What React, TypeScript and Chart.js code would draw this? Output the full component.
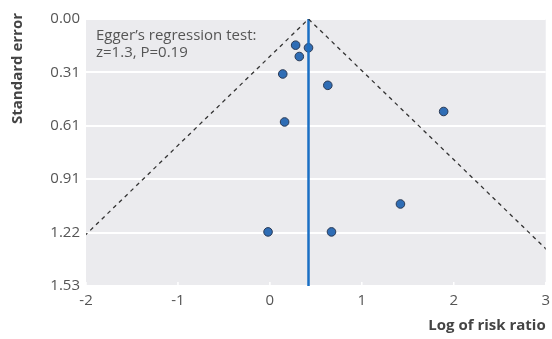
import React, { useEffect, useRef } from "react";
import { Chart, registerables } from "chart.js";
Chart.register(...registerables);

const logRR = [0.28, 0.42, 0.32, 0.14, 0.63, 1.89, 0.16, -0.02, 0.67, 1.42];
const stdErr = [0.15, 0.165, 0.215, 0.315, 0.38, 0.53, 0.59, 1.22, 1.22, 1.06];
const pooled = 0.42;
const seMax = 1.53;
const yTickLabels = ["0.00", "0.31", "0.61", "0.91", "1.22", "1.53"];
const xTickValues = [-2, -1, 0, 1, 2, 3];
const annotation = ["Egger\u2019s regression test:", "z=1.3, P=0.19"];
const yTitle = "Standard error";

const FONT = "'Open Sans', 'Noto Sans', sans-serif";

const bgPlugin = {
  id: "bg",
  beforeDraw(chart: any) {
    const { ctx, chartArea: a } = chart;
    ctx.save();
    ctx.fillStyle = "#EBEBEE";
    ctx.fillRect(a.left, a.top, a.right - a.left, a.bottom - a.top);
    ctx.restore();
  },
  beforeDatasetsDraw(chart: any) {
    const { ctx, chartArea: a, scales } = chart;
    ctx.save();
    ctx.strokeStyle = "#fff";
    ctx.lineWidth = 1.5;
    xTickValues.forEach((v) => {
      const px = scales.x.getPixelForValue(v);
      ctx.beginPath();
      ctx.moveTo(px, a.bottom);
      ctx.lineTo(px, a.bottom - 4);
      ctx.stroke();
    });
    ctx.restore();
  },
  afterDatasetsDraw(chart: any) {
    const { ctx, chartArea: a } = chart;
    ctx.save();
    ctx.fillStyle = "#555";
    ctx.font = `15px ${FONT}`;
    ctx.textBaseline = "middle";
    ctx.fillText(annotation[0], a.left + 10, 36);
    ctx.fillText(annotation[1], a.left + 10, 53);
    ctx.restore();
    ctx.save();
    ctx.fillStyle = "#444";
    ctx.font = `bold 15px ${FONT}`;
    ctx.translate(18, 13);
    ctx.rotate(-Math.PI / 2);
    ctx.textAlign = "right";
    ctx.textBaseline = "middle";
    ctx.fillText(yTitle, 0, 0);
    ctx.restore();
  },
};

export default function App() {
  const ref = useRef<HTMLCanvasElement>(null);
  useEffect(() => {
    const points = logRR.map((x, i) => ({ x, y: stdErr[i] }));
    const chart = new Chart(ref.current!, {
      type: "scatter",
      data: {
        datasets: [
          {
            type: "line",
            data: [
              { x: pooled - 1.96 * seMax, y: seMax },
              { x: pooled, y: 0 },
              { x: pooled + 1.96 * seMax, y: seMax },
            ],
            borderColor: "#333",
            borderWidth: 1.3,
            borderDash: [4, 4],
            pointRadius: 0,
            fill: false,
          } as any,
          {
            type: "line",
            data: [
              { x: pooled, y: 0 },
              { x: pooled, y: seMax },
            ],
            borderColor: "#1A6FC4",
            borderWidth: 2.5,
            pointRadius: 0,
            fill: false,
          } as any,
          {
            data: points,
            backgroundColor: "#2F6DB5",
            borderColor: "#2A3A55",
            borderWidth: 1,
            pointRadius: 4.3,
          },
        ],
      },
      options: {
        animation: false,
        responsive: false,
        layout: { padding: { top: 19, right: 4 } },
        plugins: { legend: { display: false }, tooltip: { enabled: false } },
        scales: {
          x: {
            type: "linear",
            min: -2,
            max: 3,
            afterBuildTicks: (s: any) => {
              s.ticks = xTickValues.map((v) => ({ value: v }));
            },
            grid: { display: true, drawOnChartArea: false, color: "#fff", tickLength: 4 },
            border: { display: false },
            ticks: { color: "#555", font: { family: FONT, size: 15 }, padding: 2 },
            title: {
              display: true,
              text: "Log of risk ratio",
              align: "end",
              color: "#444",
              font: { family: FONT, size: 15, weight: "bold" },
              padding: { top: 10 },
            },
            afterFit: (s: any) => {
              s.height = 53;
            },
          },
          y: {
            type: "linear",
            reverse: true,
            min: 0,
            max: seMax,
            afterBuildTicks: (s: any) => {
              s.ticks = yTickLabels.map((_, i) => ({ value: (seMax * i) / 5 }));
            },
            grid: { color: "#fff", lineWidth: 2, drawTicks: false },
            border: { display: false },
            ticks: {
              color: "#555",
              font: { family: FONT, size: 15 },
              padding: 6,
              callback: (_v: any, i: number) => yTickLabels[i],
            },
            afterFit: (s: any) => {
              s.width = 86;
            },
          },
        },
      },
      plugins: [bgPlugin],
    });
    return () => chart.destroy();
  }, []);
  return (
    <div style={{ position: "fixed", left: 0, top: 0, width: 552, height: 339 }}>
      <canvas ref={ref} width={552} height={339} />
    </div>
  );
}
